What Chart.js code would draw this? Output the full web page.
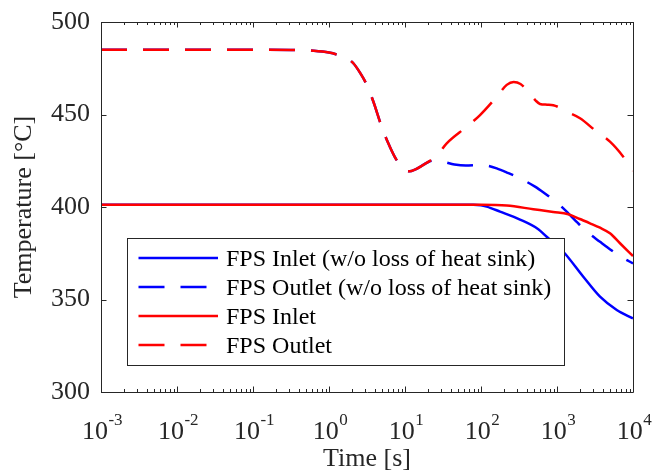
<!DOCTYPE html>
<html>
<head>
<meta charset="utf-8">
<script src="https://cdn.jsdelivr.net/npm/chart.js@4.4.1/dist/chart.umd.min.js"></script>
<style>
html,body{margin:0;padding:0;background:#ffffff;}
canvas{display:block;}
</style>
</head>
<body>
<canvas id="c" width="666" height="475"></canvas>
<script>
// ---------------- data ----------------
const xTickValues = [1e-3, 1e-2, 1e-1, 1, 10, 100, 1000, 10000];
const xTickBase = '10';
const xTickExponents = ['-3', '-2', '-1', '0', '1', '2', '3', '4'];
const yTickValues = [300, 350, 400, 450, 500];

const seriesNames = [
  'FPS Inlet (w/o loss of heat sink)',
  'FPS Outlet (w/o loss of heat sink)',
  'FPS Inlet',
  'FPS Outlet'
];

// FPS Inlet (w/o loss of heat sink) - time [s], temperature [°C]
const inletNoLossTime = [0.001, 79.4, 100, 118.9, 177.8, 325.8, 567.5, 731.1, 1211, 2218, 3681, 6109, 10000];
const inletNoLossTemp = [401.2, 401.2, 401.0, 400.2, 397.5, 393.2, 388.0, 383.9, 375.8, 362.3, 351.5, 344.3, 339.8];

// FPS Outlet (w/o loss of heat sink)
const outletNoLossTime = [0.001, 0.01, 0.1, 0.316, 0.631, 1, 1.41, 1.78, 2.09, 2.63, 3.16, 3.83, 4.93, 6.03, 7.24, 8.59, 10, 11.5, 13.5, 17.8,
  20.9, 26.3, 33.1, 44.7, 63.1, 97.1, 125.9, 161, 223.9, 325.8, 514, 707.9, 990.8, 1409, 1862, 2460, 3681, 5248, 6950, 10000];
const outletNoLossTemp = [485, 485, 485, 484.9, 484.5, 483.5, 481.8, 480.0, 477.7, 471.8, 465.8, 457.0, 443.4, 434.4, 427.5, 422.7, 420.0, 419.3, 420.2, 423.0,
  424.6, 425.2, 424.3, 423.0, 422.4, 422.7, 422.2, 420.9, 418.5, 415.5, 411.0, 407.0, 402.5, 396.6, 391.5, 386.7, 381.2, 376.5, 373.1, 369.5];

// FPS Inlet
const inletTime = [0.001, 100, 217.8, 487.5, 891, 1409, 1995, 2716, 3681, 4977, 6745, 10000];
const inletTemp = [401.2, 401.2, 400.8, 398.8, 397.3, 396.1, 393.5, 391.2, 388.8, 385.8, 380.4, 373.5];

// FPS Outlet
const outletTime = [0.001, 0.01, 0.1, 0.316, 0.631, 1, 1.41, 1.78, 2.09, 2.63, 3.16, 3.83, 4.93, 6.03, 7.24, 8.59, 10, 11.5, 13.5, 17.8,
  26.1, 35.4, 64.9, 97.1, 161, 218, 269, 331, 419, 525, 597, 741, 893, 1072, 1274, 2009, 3327, 4977, 7447, 10000];
const outletTemp = [485, 485, 485, 484.9, 484.5, 483.5, 481.8, 480.0, 477.7, 471.8, 465.8, 457.0, 443.4, 434.4, 427.5, 422.7, 420.0, 419.3, 420.2, 423.0,
  427.7, 434.4, 443.4, 449.7, 459.6, 466.0, 467.6, 466.5, 462.3, 457.5, 455.7, 455.3, 455.0, 453.8, 452.0, 448.0, 440.7, 435.3, 427.2, 419.6];

// ---------------- chart ----------------
const FONT = "'Liberation Serif', 'Times New Roman', serif";
const AXIS_COLOR = '#262626';

function toPoints(xs, ys) { return xs.map((x, i) => ({x: x, y: ys[i]})); }

const axesBoxPlugin = {
  id: 'axesBox',
  afterDraw(chart) {
    const ctx = chart.ctx;
    const a = chart.chartArea;
    const xs = chart.scales.x, ys = chart.scales.y;
    ctx.save();
    ctx.strokeStyle = AXIS_COLOR;
    ctx.lineWidth = 1;
    ctx.beginPath();
    ctx.rect(Math.round(a.left) + 0.5, Math.round(a.top) + 0.5, Math.round(a.right - a.left), Math.round(a.bottom - a.top));
    ctx.stroke();
    // x ticks (major + minor), inward on bottom and top
    ctx.beginPath();
    for (let e = -3; e <= 4; e++) {
      for (let k = 1; k <= 9; k++) {
        const v = k * Math.pow(10, e);
        if (v > 1e4 * 1.0001) break;
        const px = Math.round(xs.getPixelForValue(v)) + 0.5;
        const len = (k === 1) ? 5.5 : 3;
        ctx.moveTo(px, a.bottom); ctx.lineTo(px, a.bottom - len);
        ctx.moveTo(px, a.top); ctx.lineTo(px, a.top + len);
      }
    }
    yTickValues.forEach(v => {
      const py = Math.round(ys.getPixelForValue(v)) + 0.5;
      ctx.moveTo(a.left, py); ctx.lineTo(a.left + 5.5, py);
      ctx.moveTo(a.right, py); ctx.lineTo(a.right - 5.5, py);
    });
    ctx.stroke();

    // x tick labels: 10 with superscript exponent
    ctx.fillStyle = AXIS_COLOR;
    ctx.textAlign = 'left';
    ctx.textBaseline = 'alphabetic';
    xTickValues.forEach((v, i) => {
      const px = xs.getPixelForValue(v);
      ctx.font = '26px ' + FONT;
      const wb = ctx.measureText(xTickBase).width;
      ctx.font = '17px ' + FONT;
      const we = ctx.measureText(xTickExponents[i]).width;
      const start = px - (wb + we) / 2 + 1;
      ctx.font = '26px ' + FONT;
      ctx.fillText(xTickBase, start, a.bottom + 47);
      ctx.font = '17px ' + FONT;
      ctx.fillText(xTickExponents[i], start + wb + 0.5, a.bottom + 33);
    });

    // legend box (MATLAB style, inside the axes)
    const lx = 127.5, ly = 238.5, lw = 437, lh = 127;
    ctx.fillStyle = '#ffffff';
    ctx.fillRect(lx, ly, lw, lh);
    ctx.strokeStyle = AXIS_COLOR;
    ctx.lineWidth = 1;
    ctx.strokeRect(lx, ly, lw, lh);
    const rowsY = [258, 287, 316, 345];
    chart.data.datasets.forEach((ds, i) => {
      const y = rowsY[i];
      ctx.beginPath();
      ctx.strokeStyle = ds.borderColor;
      ctx.lineWidth = ds.borderWidth;
      ctx.lineCap = 'butt';
      ctx.setLineDash(ds.borderDash || []);
      ctx.moveTo(138.5, y);
      ctx.lineTo(218, y);
      ctx.stroke();
      ctx.setLineDash([]);
      ctx.fillStyle = '#000000';
      ctx.font = '24px ' + FONT;
      ctx.textAlign = 'left';
      ctx.textBaseline = 'middle';
      ctx.fillText(ds.label, 226, y + 2);
    });
    ctx.restore();
  }
};

new Chart(document.getElementById('c'), {
  type: 'line',
  data: {
    datasets: [
      {label: seriesNames[0], data: toPoints(inletNoLossTime, inletNoLossTemp), borderColor: '#0000ff', borderWidth: 2.5, borderDash: [], order: 3},
      {label: seriesNames[1], data: toPoints(outletNoLossTime, outletNoLossTemp), borderColor: '#0000ff', borderWidth: 2.5, borderDash: [26, 16], order: 2},
      {label: seriesNames[2], data: toPoints(inletTime, inletTemp), borderColor: '#ff0000', borderWidth: 2.5, borderDash: [], order: 1},
      {label: seriesNames[3], data: toPoints(outletTime, outletTemp), borderColor: '#ff0000', borderWidth: 2.5, borderDash: [26, 16], order: 0}
    ]
  },
  options: {
    responsive: false,
    animation: false,
    devicePixelRatio: 1,
    layout: {padding: {top: 22, right: 33, left: 0, bottom: 0}},
    plugins: {legend: {display: false}, tooltip: {enabled: false}},
    elements: {
      point: {radius: 0},
      line: {cubicInterpolationMode: 'monotone', borderCapStyle: 'butt', fill: false}
    },
    scales: {
      x: {
        type: 'logarithmic',
        min: 1e-3,
        max: 1e4,
        grid: {display: false, drawTicks: false},
        border: {display: false},
        afterBuildTicks: s => { s.ticks = xTickValues.map(v => ({value: v, major: true})); },
        afterFit: s => { s.height = 83; s.paddingLeft = 0; s.paddingRight = 0; },
        ticks: {display: false},
        title: {display: true, text: 'Time [s]', color: AXIS_COLOR, font: {family: FONT, size: 26}, padding: {top: 0, bottom: 0}}
      },
      y: {
        min: 300,
        max: 500,
        grid: {display: false, drawTicks: false},
        border: {display: false},
        afterBuildTicks: s => { s.ticks = yTickValues.map(v => ({value: v})); },
        afterFit: s => { s.width = 101; s.paddingTop = 0; s.paddingBottom = 0; },
        ticks: {padding: 11, color: AXIS_COLOR, font: {family: FONT, size: 26}, callback: v => String(v)},
        title: {display: true, text: 'Temperature [°C]', color: AXIS_COLOR, font: {family: FONT, size: 26}, padding: {top: 9, bottom: 0}}
      }
    }
  },
  plugins: [axesBoxPlugin]
});
</script>
</body>
</html>
